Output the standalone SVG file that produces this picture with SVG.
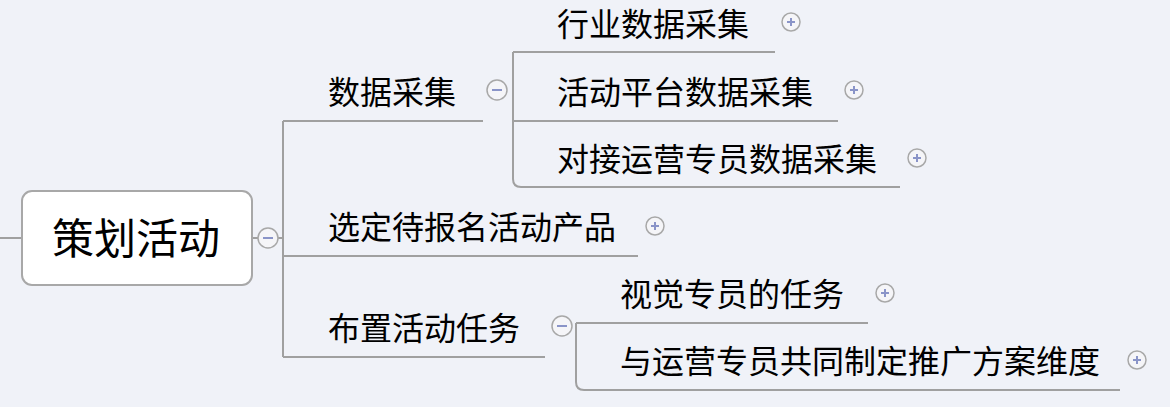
<svg xmlns="http://www.w3.org/2000/svg" width="1170" height="407" viewBox="0 0 1170 407">
<style>
.l{fill:none;stroke:#a0a0a0;stroke-width:2}
.t{font-family:"Noto Sans CJK SC",sans-serif;font-size:32px;fill:#000}
.c{fill:#f5f5f8;stroke:#a8a8a8;stroke-width:1.5}
.s{stroke:#8a94c8;stroke-width:2}
</style>
<rect width="1170" height="407" fill="#f0f2f8"/>
<g id="connectors">
<path class="l" d="M0 238H22M252 238H283M283 121V357M283 121H483M283 256H638M283 357H545"/>
<path class="l" d="M513 52V179Q513 187 521 187H900M513 52H775M513 121H838"/>
<path class="l" d="M576 323V382Q576 390 584 390H1120M576 323H868"/>
</g>
<g id="central"><rect x="22" y="191" width="230" height="94" rx="10" fill="#fff" stroke="#a8a8a8" stroke-width="2"/><text x="136" y="254" text-anchor="middle" style="font-family:'Noto Sans CJK SC',sans-serif;font-size:42px">策划活动</text>
<circle class="c" cx="268" cy="238" r="10"/><path class="s" d="M263 238H273"/></g>
<g id="n1"><text class="t" x="328" y="104">数据采集</text><circle class="c" cx="497" cy="90" r="10"/><path class="s" d="M492 90H502"/></g>
<g id="n11"><text class="t" x="557" y="36">行业数据采集</text><circle class="c" cx="791" cy="22" r="9"/><path class="s" d="M787 22H795M791 18V26"/></g>
<g id="n12"><text class="t" x="557" y="104">活动平台数据采集</text><circle class="c" cx="854" cy="90" r="9"/><path class="s" d="M850 90H858M854 86V94"/></g>
<g id="n13"><text class="t" x="557" y="171">对接运营专员数据采集</text><circle class="c" cx="917" cy="158" r="9"/><path class="s" d="M913 158H921M917 154V162"/></g>
<g id="n2"><text class="t" x="328" y="239">选定待报名活动产品</text><circle class="c" cx="655" cy="226" r="9"/><path class="s" d="M651 226H659M655 222V230"/></g>
<g id="n3"><text class="t" x="328" y="340">布置活动任务</text><circle class="c" cx="562" cy="326" r="10"/><path class="s" d="M557 326H567"/></g>
<g id="n31"><text class="t" x="620" y="306">视觉专员的任务</text><circle class="c" cx="885" cy="293" r="9"/><path class="s" d="M881 293H889M885 289V297"/></g>
<g id="n32"><text class="t" x="620" y="373">与运营专员共同制定推广方案维度</text><circle class="c" cx="1137" cy="360" r="9"/><path class="s" d="M1133 360H1141M1137 356V364"/></g>
</svg>
